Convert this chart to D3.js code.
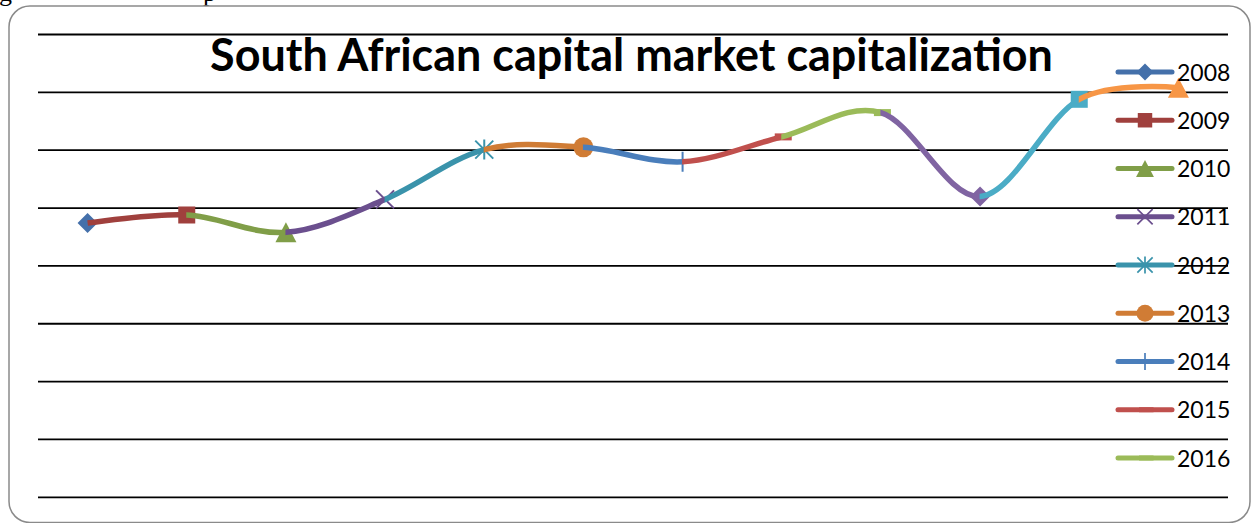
<!DOCTYPE html>
<html>
<head>
<meta charset="utf-8">
<script src="https://cdn.jsdelivr.net/npm/d3@7"></script>
<style>
  html, body { margin: 0; padding: 0; background: #fff; overflow: hidden; }
  svg { display: block; }
</style>
</head>
<body>
<svg id="chart" width="1253" height="523"></svg>
<script>
// Market capitalization by year (index units, read on the gridline scale)
const years = ["2008", "2009", "2010", "2011", "2012", "2013", "2014", "2015", "2016", "2017", "2018", "2019"];
const capValues = [4.74, 4.88, 4.58, 5.15, 6.01, 6.05, 5.80, 6.23, 6.65, 5.20, 6.88, 7.08];
const legendYears = ["2008", "2009", "2010", "2011", "2012", "2013", "2014", "2015", "2016"];
const gridValues = [0, 1, 2, 3, 4, 5, 6, 7, 8];
const chartTitle = "South African capital market capitalization";

// Series palette and marker symbols, one per year
const seriesColors = ["#4470aa", "#a0403d", "#809e48", "#6b4f8e", "#3a93ab", "#d07c35",
                      "#4a7ebb", "#c0504d", "#9bbb59", "#8064a2", "#4bacc6", "#f79646"];
const markerKinds = ["diamond", "square", "triangle", "cross", "asterisk", "circle",
                     "plus", "dash", "dash", "diamond", "square", "triangle"];

const W = 1253, H = 523;
const plot = { left: 38, right: 1228, top: 34.5, bottom: 497.3 };
const svg = d3.select("#chart");

const x = d3.scaleBand().domain(years).range([plot.left, plot.right]).padding(0);
const y = d3.scaleLinear().domain([0, 8]).range([plot.bottom, plot.top]);
const cx = yr => x(yr) + x.bandwidth() / 2;

// Fragments of the caption line running above the chart box
const capFrag = svg.append("g").attr("font-family", "'Liberation Serif', serif").attr("font-size", 26).attr("fill", "#000");
capFrag.append("text").attr("x", -1).attr("y", 1).text("g");
capFrag.append("text").attr("x", 203).attr("y", 1).text("p");

// Chart frame
svg.append("rect")
  .attr("x", 9).attr("y", 6)
  .attr("width", 1241).attr("height", 516.5)
  .attr("rx", 21).attr("ry", 21)
  .attr("fill", "#fff")
  .attr("stroke", "#8a8a8a")
  .attr("stroke-width", 1.5);

// Horizontal gridlines
svg.append("g")
  .selectAll("line")
  .data(gridValues)
  .join("line")
  .attr("x1", plot.left).attr("x2", plot.right)
  .attr("y1", d => y(d)).attr("y2", d => y(d))
  .attr("stroke", "#000")
  .attr("stroke-width", 1.8);

// Title, bold, sized to span the top of the plot
const title = svg.append("text")
  .attr("x", 631.5).attr("y", 71)
  .attr("text-anchor", "middle")
  .attr("font-family", "Lato, 'Open Sans', sans-serif")
  .attr("font-weight", 700)
  .attr("font-size", 36)
  .attr("fill", "#000")
  .text(chartTitle);
{
  const len = title.node().getComputedTextLength();
  if (len > 0) title.attr("font-size", 36 * 843 / len);
}

// Marker drawing
function drawMarker(g, kind, px, py, color, s, dashH = 7) {
  const m = g.append("g").attr("transform", `translate(${px},${py}) scale(${s})`);
  switch (kind) {
    case "diamond":
      m.append("path").attr("d", "M0,-10L10,0L0,10L-10,0Z").attr("fill", color);
      break;
    case "square":
      m.append("rect").attr("x", -8.5).attr("y", -8.5).attr("width", 17).attr("height", 17).attr("fill", color);
      break;
    case "triangle":
      m.append("path").attr("d", "M0,-10L10.5,10L-10.5,10Z").attr("fill", color);
      break;
    case "circle":
      m.append("circle").attr("r", 10).attr("fill", color);
      break;
    case "cross":
      m.append("path").attr("d", "M-9,-9L9,9M-9,9L9,-9")
        .attr("stroke", color).attr("stroke-width", 2).attr("fill", "none");
      break;
    case "asterisk":
      m.append("path").attr("d", "M-9,-9L9,9M-9,9L9,-9M0,-10L0,10")
        .attr("stroke", color).attr("stroke-width", 2).attr("fill", "none");
      break;
    case "plus":
      m.append("path").attr("d", "M0,-10L0,10M-9,0L9,0")
        .attr("stroke", color).attr("stroke-width", 2).attr("fill", "none");
      break;
    case "dash":
      m.append("rect").attr("x", -7).attr("y", -dashH / 2).attr("width", 17).attr("height", dashH).attr("fill", color);
      break;
  }
}

// Smoothed capitalization line: each year's series draws the segment
// leading into its point, then its marker.
const points = capValues.map((v, i) => [cx(years[i]), y(v)]);
const lineGen = d3.line().curve(d3.curveCardinal.tension(0));
const defs = svg.append("defs");
const series = svg.append("g");

years.forEach((yr, i) => {
  if (i > 0) {
    const clipId = "seg-" + yr;
    defs.append("clipPath").attr("id", clipId)
      .append("rect")
      .attr("x", points[i - 1][0] - 0.5)
      .attr("y", 0)
      .attr("width", points[i][0] - points[i - 1][0] + 0.5)
      .attr("height", H);
    series.append("path")
      .attr("d", lineGen(points))
      .attr("clip-path", `url(#${clipId})`)
      .attr("fill", "none")
      .attr("stroke", seriesColors[i])
      .attr("stroke-width", 5.5)
      .attr("stroke-linejoin", "round");
  }
  drawMarker(series, markerKinds[i], points[i][0], points[i][1], seriesColors[i], 1);
});

// Legend (dash markers sit flush with the legend line)
const legend = svg.append("g");
legendYears.forEach((yr, j) => {
  const i = years.indexOf(yr);
  const ly = 72 + j * 48.25;
  legend.append("line")
    .attr("x1", 1118).attr("x2", 1172)
    .attr("y1", ly).attr("y2", ly)
    .attr("stroke", seriesColors[i])
    .attr("stroke-width", 5)
    .attr("stroke-linecap", "round");
  drawMarker(legend, markerKinds[i], 1145, ly, seriesColors[i], 0.85, 5 / 0.85);
  legend.append("text")
    .attr("x", 1177).attr("y", ly + 8.5)
    .attr("font-family", "Lato, 'Open Sans', sans-serif")
    .attr("font-size", 23)
    .attr("fill", "#000")
    .text(yr);
});
</script>
</body>
</html>
